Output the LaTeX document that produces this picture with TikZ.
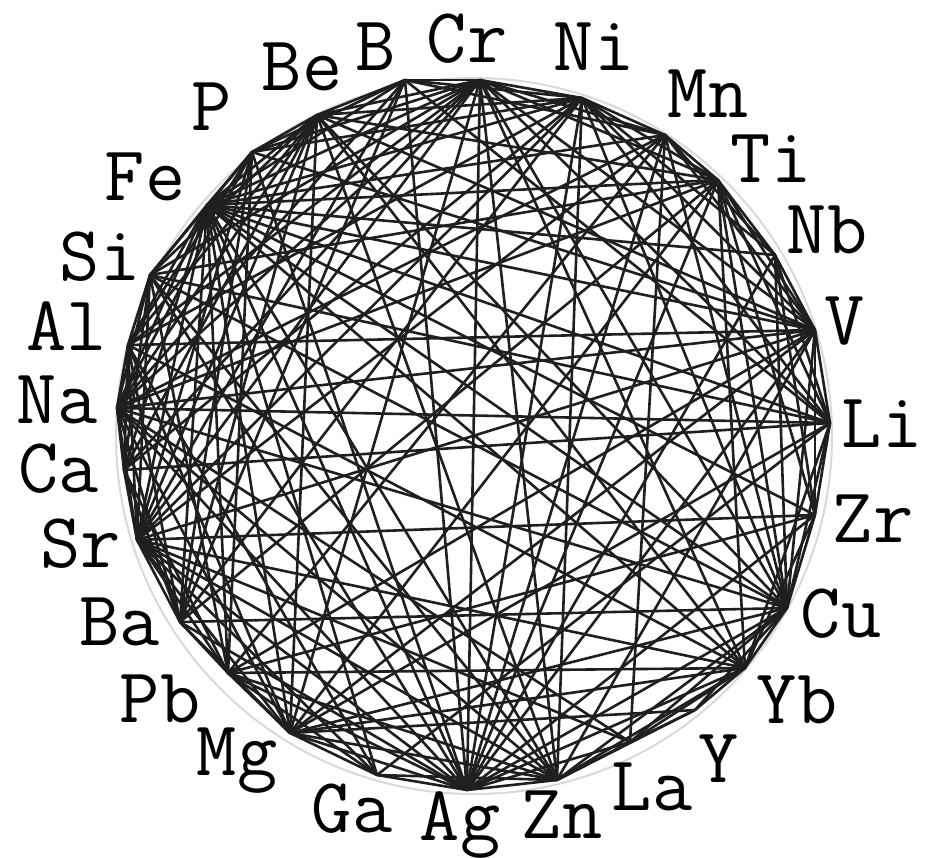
\documentclass[tikz,border=0pt]{standalone}
\usepackage{fontspec}
\usepackage{tikz}

\begin{document}
\begin{tikzpicture}[
  x=0.5pt, y=-0.5pt,
  elem/.style={font=\ttfamily\fontsize{39}{39}\selectfont, anchor=base, inner sep=0pt},
  bond/.style={line width=1.3pt, black!88},
  rim/.style={line width=1pt, black!15}
]
\useasboundingbox (0,0) rectangle (928,858);

% ---------- vertices on the ring ----------
\coordinate (Cr) at (480,80);
\coordinate (Ni) at (582,98);
\coordinate (Mn) at (665,135);
\coordinate (Ti) at (718,180);
\coordinate (Nb) at (775,255);
\coordinate (V)  at (815,330);
\coordinate (Li) at (830,423);
\coordinate (Zr) at (815,515);
\coordinate (Cu) at (787,608);
\coordinate (Yb) at (745,668);
\coordinate (Y)  at (695,710);
\coordinate (La) at (630,742);
\coordinate (Zn) at (557,780);
\coordinate (Ag) at (467,790);
\coordinate (Ga) at (377,775);
\coordinate (Mg) at (290,733);
\coordinate (Pb) at (228,673);
\coordinate (Ba) at (180,622);
\coordinate (Sr) at (137,540);
\coordinate (Ca) at (124,470);
\coordinate (Na) at (117,408);
\coordinate (Al) at (128,345);
\coordinate (Si) at (150,275);
\coordinate (Fe) at (207,205);
\coordinate (P)  at (252,152);
\coordinate (Be) at (317,115);
\coordinate (B)  at (405,80);

\draw[rim] (474,436) circle[radius=179pt];

% ---------- bonds ----------
\foreach \a/\b in {Cr/Ni, Ni/Mn, Mn/Ti, Ti/Nb, Nb/V, V/Li, Li/Zr, Zr/Cu, Cu/Yb,
    Yb/Y, Y/La, La/Zn, Zn/Ag, Ag/Ga, Ga/Mg, Mg/Pb, Pb/Ba, Ba/Sr, Sr/Ca, Ca/Na,
    Na/Al, Al/Si, Si/Fe, Fe/P, P/Be, Be/B, B/Cr}
  \draw[bond] (\a) -- (\b);

\foreach \a/\b in {Cr/Be, Cr/P, Cr/Fe, Cr/Ag, Cr/Zn, Cr/Mg, Cr/Sr, Cr/Na,
    Cr/V, Cr/Ti, Cr/Mn, Cr/Cu, Cr/Yb, Cr/Li, Cr/Si, Cr/Al, Cr/Ca,
    Ni/Ti, Ni/V, Ni/Li, Ni/Cu, Ni/Zn, Ni/Ag, Ni/Ba, Ni/Ca, Ni/Al, Ni/Fe, Ni/Be,
    Ni/P, Ni/Sr, Ni/Nb, Ni/B,
    Mn/V, Mn/Fe, Mn/Na, Mn/Sr, Mn/Ag, Mn/Cu, Mn/Pb, Mn/La, Mn/Nb, Mn/B,
    Ti/V, Ti/Li, Ti/Yb, Ti/Ag, Ti/Mg, Ti/Fe, Ti/Si, Ti/Na, Ti/Ba, Ti/Be,
    Ti/Zr, Ti/Cu,
    Nb/Zr, Nb/Fe, Nb/Cu, Nb/Li, Nb/Ag,
    V/Zr, V/Cu, V/Fe, V/Al, V/Na, V/Sr, V/Pb, V/Ag, V/Zn, V/Be, V/P, V/Mg,
    Li/Cu, Li/Fe, Li/Ca, Li/Mg, Li/Ga, Li/Si, Li/B, Li/Yb, Li/Na,
    Zr/Fe, Zr/Sr, Zr/Ag, Zr/Yb, Zr/Pb,
    Cu/La, Cu/Zn, Cu/Ag, Cu/Fe, Cu/Si, Cu/Na, Cu/Ba, Cu/Be, Cu/Y, Cu/Mg,
    Yb/Zn, Yb/Ag, Yb/Mg, Yb/Pb, Yb/Fe, Yb/Al, Yb/Be, Yb/La, Yb/Sr,
    Y/Mg, Y/Zn, La/Ag, La/Sr, La/Na,
    Zn/Mg, Zn/Pb, Zn/Sr, Zn/Na, Zn/Fe, Zn/Be, Zn/Ga, Zn/Si,
    Ag/Mg, Ag/Pb, Ag/Ba, Ag/Sr, Ag/Na, Ag/Si, Ag/Fe, Ag/P, Ag/B,
    Ga/Sr, Ga/Al, Ga/Pb, Ga/Fe,
    Mg/Ba, Mg/Sr, Mg/Na, Mg/Fe, Mg/Be, Mg/Al,
    Pb/Sr, Pb/Ca, Pb/Fe, Pb/P, Pb/Si,
    Ba/Ca, Ba/Na, Ba/Al, Ba/Fe, Ba/Be, Ba/B, Ba/P,
    Sr/Na, Sr/Al, Sr/Si, Sr/Fe, Sr/P, Sr/Be, Sr/B,
    Ca/Al, Ca/Fe, Ca/Be, Ca/Si,
    Na/Si, Na/Fe, Na/P, Na/Be, Na/B,
    Al/Fe, Al/P, Al/Be,
    Si/P, Si/Be, Fe/Be, Fe/B, P/B}
  \draw[bond] (\a) -- (\b);

% ---------- element labels ----------
\node[elem] (lCr) at (467,62)  {Cr};
\node[elem] (lNi) at (594,70)  {Ni};
\node[elem] (lMn) at (708,117) {Mn};
\node[elem] (lTi) at (771,182) {Ti};
\node[elem] (lNb) at (827,253) {Nb};
\node[elem] (lV)  at (845,344) {V};
\node[elem] (lLi) at (882,447) {Li};
\node[elem] (lZr) at (873,542) {Zr};
\node[elem] (lCu) at (841,637) {Cu};
\node[elem] (lYb) at (797,723) {Yb};
\node[elem] (lY)  at (719,782) {Y};
\node[elem] (lLa) at (652,810) {La};
\node[elem] (lZn) at (562,838) {Zn};
\node[elem] (lAg) at (460,840) {Ag};
\node[elem] (lGa) at (352,832) {Ga};
\node[elem] (lMg) at (237,775) {Mg};
\node[elem] (lPb) at (160,722) {Pb};
\node[elem] (lBa) at (120,645) {Ba};
\node[elem] (lSr) at (81,567)  {Sr};
\node[elem] (lCa) at (59,492)  {Ca};
\node[elem] (lNa) at (57,423)  {Na};
\node[elem] (lAl) at (67,350)  {Al};
\node[elem] (lSi) at (100,280) {Si};
\node[elem] (lFe) at (145,200) {Fe};
\node[elem] (lP)  at (212,130) {P};
\node[elem] (lBe) at (302,90)  {Be};
\node[elem] (lB)  at (376,70)  {B};

\end{tikzpicture}
\end{document}
